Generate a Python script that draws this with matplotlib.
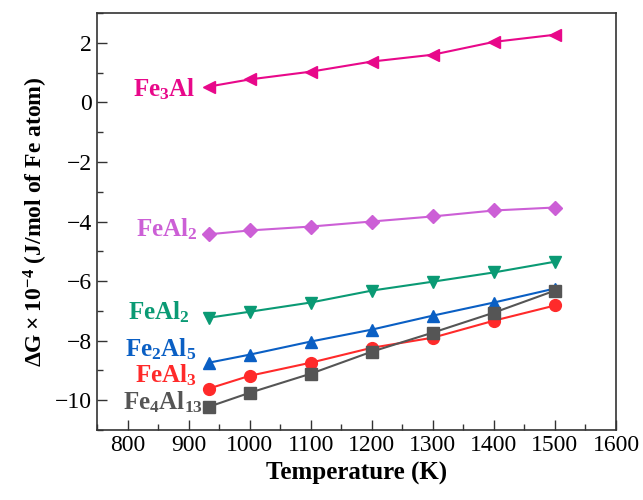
import matplotlib
matplotlib.use("Agg")
import matplotlib.pyplot as plt
from matplotlib.ticker import MultipleLocator

plt.rcParams["font.family"] = ["Liberation Serif", "DejaVu Serif"]
plt.rcParams["mathtext.fontset"] = "custom"
plt.rcParams["mathtext.rm"] = "Liberation Serif"
plt.rcParams["mathtext.bf"] = "Liberation Serif:bold"

# temperatures (K)
temps = [933, 1000, 1100, 1200, 1300, 1400, 1500]

# dG x 1e-4 (J/mol of Fe atom)
fe3al = [0.53, 0.77, 1.03, 1.37, 1.60, 2.03, 2.27]
feal2_a = [-4.43, -4.30, -4.17, -4.00, -3.83, -3.63, -3.53]
feal2_b = [-7.23, -7.03, -6.72, -6.32, -6.02, -5.71, -5.35]
fe2al5 = [-8.74, -8.47, -8.03, -7.63, -7.16, -6.72, -6.25]
feal3 = [-9.61, -9.18, -8.74, -8.24, -7.90, -7.33, -6.82]
fe4al13 = [-10.22, -9.75, -9.11, -8.37, -7.73, -7.06, -6.32]

labels = [r"$\mathbf{Fe_3Al}$", r"$\mathbf{FeAl_2}$", r"$\mathbf{FeAl_2}$",
          r"$\mathbf{Fe_2Al_5}$", r"$\mathbf{FeAl_3}$", r"$\mathbf{Fe_4Al_{13}}$"]
series = [fe3al, feal2_a, feal2_b, fe2al5, feal3, fe4al13]
colors = ["#e8088a", "#cc5fd6", "#0a9a74", "#0a5fc4", "#ff2a2a", "#555555"]
markers = ["<", "D", "v", "^", "o", "s"]
# label anchor (x right edge, baseline y) in data coords
label_pos = [(912, 0.2), (915, -4.5), (902, -7.3), (913, -8.54), (913, -9.41), (923, -10.3)]

fig, ax = plt.subplots(figsize=(6.43, 5.0), dpi=100)
fig.subplots_adjust(left=0.151, right=0.958, bottom=0.14, top=0.974)

for ys, c, m, lab, (lx, ly) in zip(series, colors, markers, labels, label_pos):
    ms = 7 if m == "D" else 8.5
    ax.plot(temps, ys, color=c, marker=m, markersize=ms, linewidth=1.5)
    ax.text(lx, ly, lab, color=c, fontsize=18, ha="right", va="baseline")

ax.set_xlim(750, 1600)
ax.set_ylim(-11, 3)
ax.xaxis.set_major_locator(MultipleLocator(100))
ax.xaxis.set_minor_locator(MultipleLocator(50))
ax.yaxis.set_major_locator(MultipleLocator(2))
ax.yaxis.set_minor_locator(MultipleLocator(1))
ax.tick_params(which="both", direction="in", labelsize=17, color="#333333")
ax.tick_params(which="major", length=7, width=1)
ax.tick_params(which="minor", length=4, width=1)
for sp in ax.spines.values():
    sp.set_color("#333333")
    sp.set_linewidth(1.2)

ax.set_xlabel("Temperature (K)", fontsize=18, fontweight="bold")
ax.set_ylabel(r"$\mathbf{\Delta G \times 10^{-4}}$ (J/mol of Fe atom)",
              fontsize=17, fontweight="bold")

fig.savefig("out.png", dpi=100, facecolor="white")
